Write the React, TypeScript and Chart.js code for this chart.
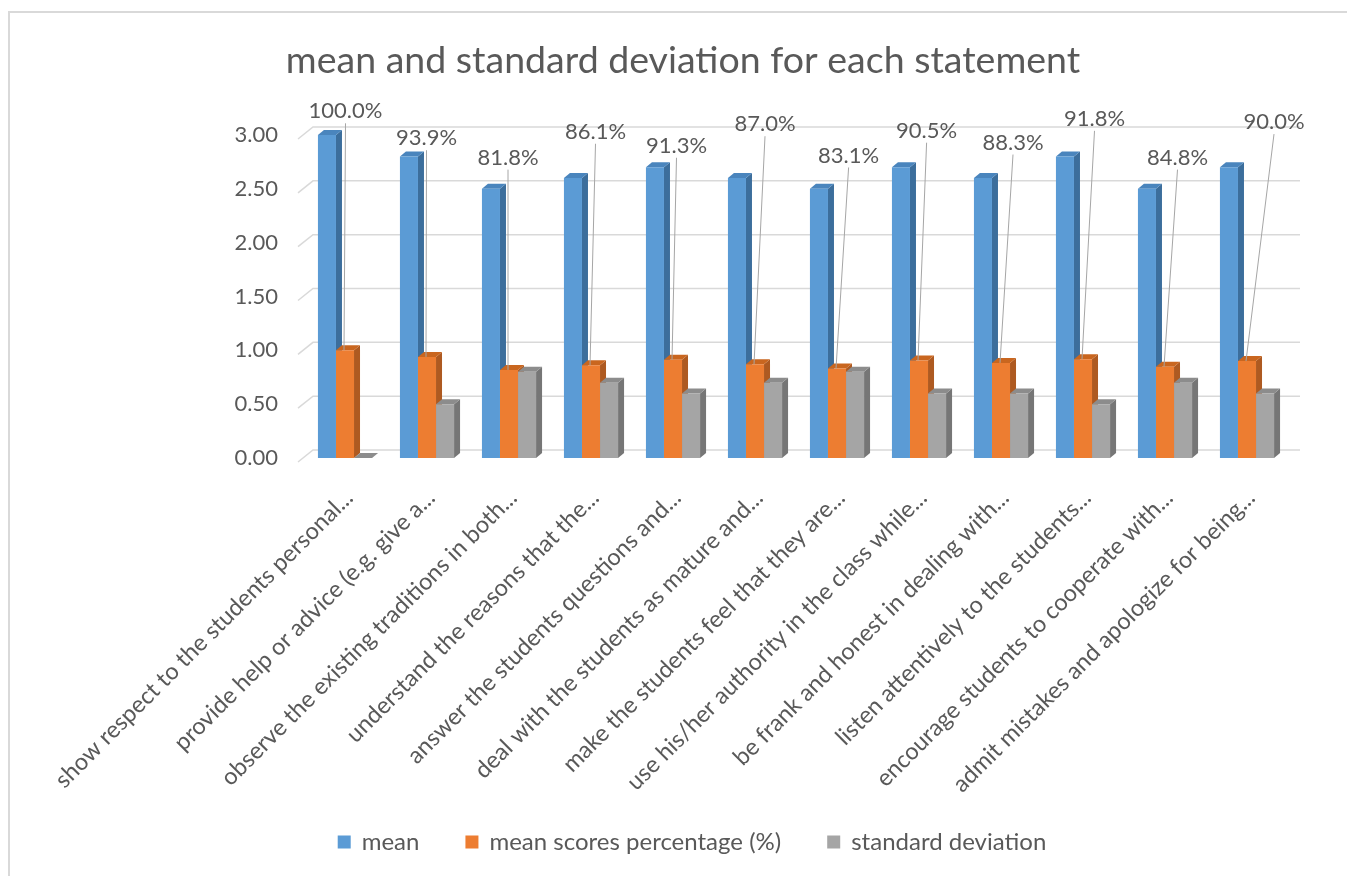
import React, { useEffect, useRef } from "react";
import { Chart, registerables } from "chart.js";

Chart.register(...registerables);

const categories = [
  "show respect to the students personal...",
  "provide help or advice (e.g. give a...",
  "observe the existing traditions in both...",
  "understand the reasons that the...",
  "answer the students questions and...",
  "deal with the students as mature and...",
  "make the students feel that they are...",
  "use his/her authority in the class while...",
  "be frank and honest in dealing with...",
  "listen attentively to the students...",
  "encourage students to cooperate with...",
  "admit mistakes and apologize for being...",
];
const meanValues = [3.0, 2.8, 2.5, 2.6, 2.7, 2.6, 2.5, 2.7, 2.6, 2.8, 2.5, 2.7];
const percentValues = [1.0, 0.939, 0.818, 0.861, 0.913, 0.87, 0.831, 0.905, 0.883, 0.918, 0.848, 0.9];
const sdValues = [0.0, 0.5, 0.8, 0.7, 0.6, 0.7, 0.8, 0.6, 0.6, 0.5, 0.7, 0.6];
const seriesNames = ["mean", "mean scores percentage (%)", "standard deviation"];
const titleText = "mean and standard deviation for each statement";
// Excel-placed data labels: level (axis units) and horizontal shift (px)
const labelLevels = [3.22, 2.97, 2.79, 3.03, 2.9, 3.1, 2.81, 3.04, 2.93, 3.15, 2.79, 3.12];
const labelShiftX = [0.5, -0.5, -1, 4.5, 3.5, 10, 11.6, 7.6, 12, 11.5, 12.5, 27];

const FONT = "Lato";
const TEXT = "#595959";
const frontColors = ["#5B9BD5", "#ED7D31", "#A5A5A5"];
const sideColors = ["#3C6E9C", "#AE5A21", "#767676"];
const topColors = ["#4A85BD", "#C9661F", "#8C8C8C"];
const DEPTH_X = 6;
const DEPTH_Y = 5;

const threeDPlugin = {
  id: "threeD",
  beforeDraw(chart: any) {
    const ctx = chart.ctx;
    ctx.save();
    ctx.fillStyle = "#ffffff";
    ctx.fillRect(0, 0, chart.width, chart.height);
    ctx.strokeStyle = "#D9D9D9";
    ctx.lineWidth = 2;
    ctx.beginPath();
    ctx.moveTo(9, chart.height);
    ctx.lineTo(9, 12);
    ctx.lineTo(chart.width, 12);
    ctx.stroke();
    ctx.restore();
  },
  beforeDatasetsDraw(chart: any) {
    const ctx = chart.ctx;
    const ys = chart.scales.y;
    const area = chart.chartArea;
    ctx.save();
    // back-wall gridlines
    ctx.strokeStyle = "#D9D9D9";
    ctx.lineWidth = 1.5;
    ys.ticks.forEach((t: any) => {
      const py = ys.getPixelForValue(t.value);
      ctx.beginPath();
      ctx.moveTo(area.left - 6, py + 4);
      ctx.lineTo(area.left + 9, py - 8);
      ctx.lineTo(area.right + 12, py - 8);
      ctx.stroke();
    });
    // side and top faces
    for (let di = 0; di < chart.data.datasets.length; di++) {
      const meta = chart.getDatasetMeta(di);
      meta.data.forEach((el: any) => {
        const p = el.getProps(["x", "y", "base", "width"], true);
        const left = p.x - p.width / 2;
        const right = p.x + p.width / 2;
        const top = Math.min(p.y, p.base);
        const bottom = Math.max(p.y, p.base);
        ctx.fillStyle = sideColors[di];
        ctx.beginPath();
        ctx.moveTo(right, top);
        ctx.lineTo(right + DEPTH_X, top - DEPTH_Y);
        ctx.lineTo(right + DEPTH_X, bottom - DEPTH_Y);
        ctx.lineTo(right, bottom);
        ctx.closePath();
        ctx.fill();
        ctx.fillStyle = topColors[di];
        ctx.beginPath();
        ctx.moveTo(left, top);
        ctx.lineTo(right, top);
        ctx.lineTo(right + DEPTH_X, top - DEPTH_Y);
        ctx.lineTo(left + DEPTH_X, top - DEPTH_Y);
        ctx.closePath();
        ctx.fill();
      });
    }
    ctx.restore();
  },
  afterDatasetsDraw(chart: any) {
    const ctx = chart.ctx;
    const xs = chart.scales.x;
    const ys = chart.scales.y;
    const meta = chart.getDatasetMeta(1);
    ctx.save();
    ctx.font = `22px ${FONT}`;
    ctx.textAlign = "center";
    ctx.textBaseline = "middle";
    meta.data.forEach((el: any, i: number) => {
      const lx = xs.getPixelForValue(i) + labelShiftX[i];
      const ly = ys.getPixelForValue(labelLevels[i]);
      const p = el.getProps(["x", "y"], true);
      ctx.strokeStyle = "#A6A6A6";
      ctx.lineWidth = 1;
      ctx.beginPath();
      ctx.moveTo(lx, ly + 12);
      ctx.lineTo(p.x - 1, p.y);
      ctx.stroke();
      ctx.fillStyle = TEXT;
      ctx.fillText((percentValues[i] * 100).toFixed(1) + "%", lx, ly);
    });
    ctx.restore();
  },
  afterDraw(chart: any) {
    const ctx = chart.ctx;
    ctx.save();
    ctx.font = `24px ${FONT}`;
    ctx.textBaseline = "middle";
    ctx.textAlign = "left";
    const box = 13;
    const gapBox = 11;
    const gapItem = 46;
    const widths = seriesNames.map((n) => box + gapBox + ctx.measureText(n).width);
    const total = widths.reduce((a, b) => a + b, 0) + gapItem * (widths.length - 1);
    let x = 692 - total / 2;
    const y = 842;
    seriesNames.forEach((n, i) => {
      ctx.fillStyle = frontColors[i];
      ctx.fillRect(x, y - box / 2, box, box);
      ctx.fillStyle = TEXT;
      ctx.fillText(n, x + box + gapBox, y);
      x += widths[i] + gapItem;
    });
    ctx.restore();
  },
};

export default function App() {
  const ref = useRef<HTMLCanvasElement | null>(null);
  useEffect(() => {
    if (!ref.current) return;
    Chart.defaults.font.family = FONT;
    const chart = new Chart(ref.current, {
      type: "bar",
      data: {
        labels: categories,
        datasets: [
          { label: seriesNames[0], data: meanValues, backgroundColor: frontColors[0] },
          { label: seriesNames[1], data: percentValues, backgroundColor: frontColors[1] },
          { label: seriesNames[2], data: sdValues, backgroundColor: frontColors[2] },
        ],
      },
      options: {
        animation: false,
        responsive: true,
        maintainAspectRatio: false,
        datasets: { bar: { categoryPercentage: 0.66, barPercentage: 1, borderWidth: 0 } },
        layout: { padding: { left: 19, right: 0, top: 0, bottom: 0 } },
        plugins: {
          legend: { display: false },
          tooltip: { enabled: false },
          title: {
            display: true,
            text: titleText,
            color: TEXT,
            font: { family: FONT, size: 37.5, weight: "normal" },
            padding: { top: 38, bottom: 52 },
          },
        },
        scales: {
          x: {
            grid: { display: false },
            border: { display: false },
            ticks: {
              color: TEXT,
              font: { family: FONT, size: 23.5 },
              maxRotation: 45,
              minRotation: 45,
              autoSkip: false,
              padding: 18,
              labelOffset: 4,
            },
            afterFit: (s: any) => {
              s.height = 418;
            },
          },
          y: {
            min: 0,
            max: 3,
            grid: { display: false },
            border: { display: false },
            ticks: {
              stepSize: 0.5,
              color: TEXT,
              font: { family: FONT, size: 22 },
              padding: 18,
              callback: (v: any) => Number(v).toFixed(2),
            },
            afterFit: (s: any) => {
              s.width = 285;
            },
          },
          yR: {
            position: "right",
            display: true,
            grid: { display: false },
            border: { display: false },
            ticks: { display: false },
            afterFit: (s: any) => {
              s.width = 59;
            },
          },
        },
      },
      plugins: [threeDPlugin],
    });
    return () => chart.destroy();
  }, []);
  return (
    <div style={{ position: "absolute", left: 0, top: 0, width: 1347, height: 876 }}>
      <canvas ref={ref} style={{ width: "100%", height: "100%" }} />
    </div>
  );
}
